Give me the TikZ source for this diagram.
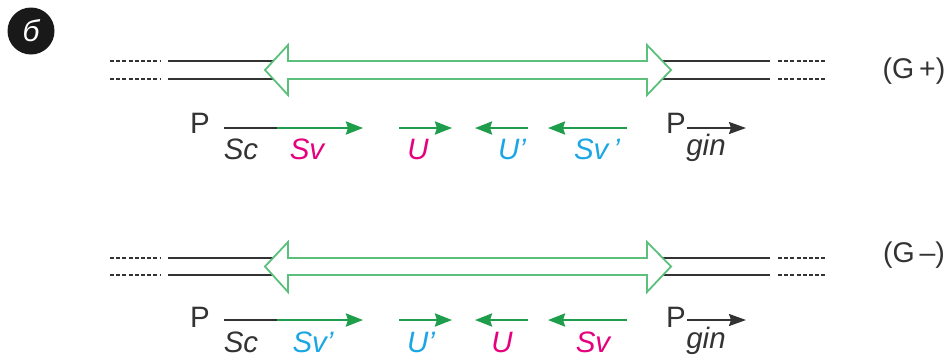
\documentclass[tikz,border=0pt]{standalone}
\usepackage{fontspec}
\setmainfont{Liberation Sans}
\usetikzlibrary{arrows.meta}
\definecolor{dnacol}{HTML}{333333}
\definecolor{lightgreen}{HTML}{5CBF7C}
\definecolor{arrgreen}{HTML}{1E9E4A}
\definecolor{magen}{HTML}{E5007D}
\definecolor{cyanc}{HTML}{1BA6E4}
\newcommand\labfont{\fontsize{29.5}{32}\selectfont}
\tikzset{
  dna/.style={line width=1.7pt, draw=dnacol},
  dnadash/.style={line width=1.5pt, draw=dnacol, dash pattern=on 4pt off 2.2pt},
  bigarrow/.style={draw=lightgreen, line width=1.8pt, fill=white, line join=miter},
  gene/.style={line width=2.4pt, draw=arrgreen, -{Stealth[length=17pt,width=13pt,inset=2pt]}},
  promarrow/.style={line width=2pt, draw=dnacol, -{Stealth[length=17pt,width=12pt,inset=2pt]}},
  lab/.style={font=\labfont\itshape, inner sep=0pt, anchor=base},
  plab/.style={font=\labfont, inner sep=0pt, anchor=base west, text=dnacol},
  glab/.style={font=\fontsize{28.5}{32}\selectfont, inner sep=0pt, anchor=base, text=dnacol},
}
\newcommand\pr{{\char"0027}}
\begin{document}
\begin{tikzpicture}[x=1pt,y=-1pt]
\useasboundingbox (0,0) rectangle (949,357);
% badge
\node[circle, fill=black!90, minimum size=47pt, inner sep=0pt, text=white,
      font=\fontsize{30}{32}\selectfont\itshape] (badge) at (31,31) {б};

% ===== block G+ =====
\coordinate (t1l) at (110,61); \coordinate (t1r) at (160,61);
\coordinate (t2l) at (110,79); \coordinate (t2r) at (160,79);
\draw[dnadash] (t1l) -- (t1r); \draw[dnadash] (t2l) -- (t2r);
\coordinate (t3l) at (778,61); \coordinate (t3r) at (826,61);
\coordinate (t4l) at (778,79); \coordinate (t4r) at (826,79);
\draw[dnadash] (t3l) -- (t3r); \draw[dnadash] (t4l) -- (t4r);
\coordinate (ta) at (168,61); \coordinate (tb) at (770,61);
\coordinate (tc) at (168,79); \coordinate (td) at (770,79);
\draw[dna] (ta) -- (tb); \draw[dna] (tc) -- (td);
\draw[bigarrow] (265,70) -- (288,45) -- (288,61) -- (647,61) -- (647,45) -- (671,70)
  -- (647,95) -- (647,79) -- (288,79) -- (288,95) -- cycle;

\node[plab] (tP) at (190,133) {P};
\coordinate (tsc0) at (224,128); \coordinate (tsc1) at (277,128); \coordinate (tsv1) at (363,128);
\draw[dna, line width=2pt] (tsc0) -- (tsc1);
\draw[gene] (tsc1) -- (tsv1);
\coordinate (tu0) at (399,128); \coordinate (tu1) at (452,128);
\draw[gene] (tu0) -- (tu1);
\coordinate (tup0) at (528,128); \coordinate (tup1) at (475,128);
\draw[gene] (tup0) -- (tup1);
\coordinate (tsp0) at (627,128); \coordinate (tsp1) at (548,128);
\draw[gene] (tsp0) -- (tsp1);
\node[lab, text=dnacol] (tSc) at (241,159) {Sc};
\node[lab, text=magen] (tSv) at (307,159) {Sv};
\node[lab, text=magen] (tU) at (418,159) {U};
\node[lab, text=cyanc] (tUp) at (512,159) {U\pr};
\node[lab, text=cyanc] (tSvp) at (597,159) {Sv\,\pr};
\node[plab] (tPg) at (666,133) {P};
\coordinate (tg0) at (687,128); \coordinate (tg1) at (746,128);
\draw[promarrow] (tg0) -- (tg1);
\node[lab, text=dnacol] (tgin) at (706,155) {gin};
\node[glab] (tG) at (914,78) {(G\,+)};

% ===== block G- =====
\coordinate (b1l) at (110,258); \coordinate (b1r) at (160,258);
\coordinate (b2l) at (110,275); \coordinate (b2r) at (160,275);
\draw[dnadash] (b1l) -- (b1r); \draw[dnadash] (b2l) -- (b2r);
\coordinate (b3l) at (778,258); \coordinate (b3r) at (826,258);
\coordinate (b4l) at (778,275); \coordinate (b4r) at (826,275);
\draw[dnadash] (b3l) -- (b3r); \draw[dnadash] (b4l) -- (b4r);
\coordinate (ba) at (168,258); \coordinate (bb) at (770,258);
\coordinate (bc) at (168,275); \coordinate (bd) at (770,275);
\draw[dna] (ba) -- (bb); \draw[dna] (bc) -- (bd);
\draw[bigarrow] (265,266.5) -- (288,242) -- (288,258) -- (647,258) -- (647,242) -- (671,266.5)
  -- (647,292) -- (647,275) -- (288,275) -- (288,292) -- cycle;

\node[plab] (bP) at (190,327) {P};
\coordinate (bsc0) at (224,320); \coordinate (bsc1) at (277,320); \coordinate (bsv1) at (363,320);
\draw[dna, line width=2pt] (bsc0) -- (bsc1);
\draw[gene] (bsc1) -- (bsv1);
\coordinate (bu0) at (399,320); \coordinate (bu1) at (452,320);
\draw[gene] (bu0) -- (bu1);
\coordinate (bup0) at (528,320); \coordinate (bup1) at (475,320);
\draw[gene] (bup0) -- (bup1);
\coordinate (bsp0) at (627,320); \coordinate (bsp1) at (548,320);
\draw[gene] (bsp0) -- (bsp1);
\node[lab, text=dnacol] (bSc) at (241,352) {Sc};
\node[lab, text=cyanc] (bSvp) at (313,352) {Sv\pr};
\node[lab, text=cyanc] (bUp) at (421,352) {U\pr};
\node[lab, text=magen] (bU) at (502,352) {U};
\node[lab, text=magen] (bSv) at (593,352) {Sv};
\node[plab] (bPg) at (666,327) {P};
\coordinate (bg0) at (687,320); \coordinate (bg1) at (746,320);
\draw[promarrow] (bg0) -- (bg1);
\node[lab, text=dnacol] (bgin) at (706,348) {gin};
\node[glab] (bG) at (914,262) {(G\,--)};
\end{tikzpicture}
\end{document}
